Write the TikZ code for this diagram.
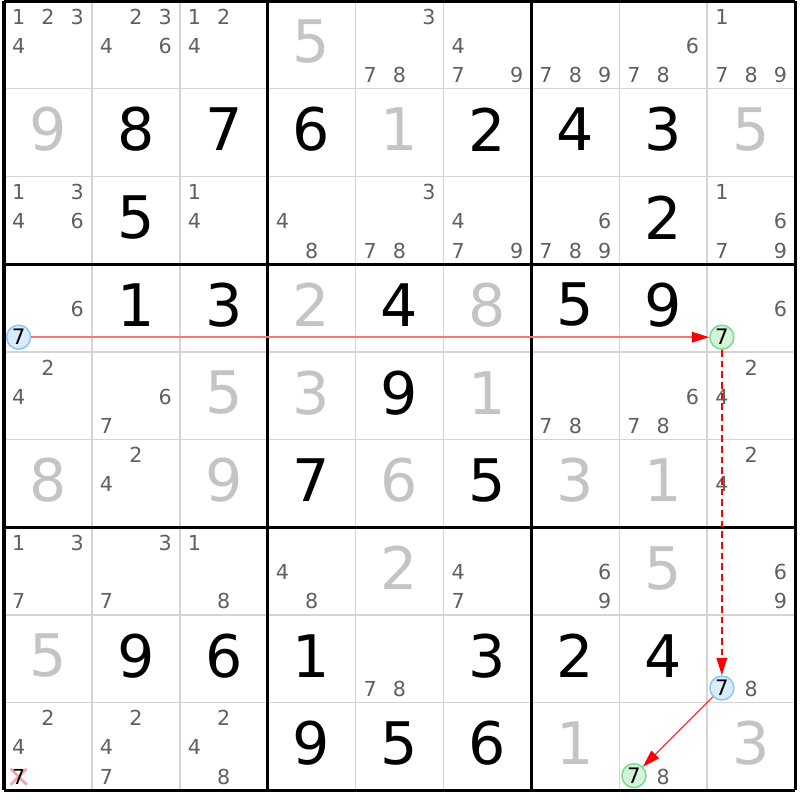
\documentclass[tikz,border=0pt]{standalone}
\usepackage{fontspec}
\setmainfont{DejaVu Sans}
\usetikzlibrary{arrows.meta}
\definecolor{candgray}{HTML}{606060}
\definecolor{solvedgray}{HTML}{C4C4C4}
\definecolor{thingrid}{HTML}{D4D4D4}
\definecolor{bluefill}{HTML}{D8EBFF}
\definecolor{blueline}{HTML}{8CC4F6}
\definecolor{greenfill}{HTML}{D4F4D8}
\definecolor{greenline}{HTML}{7CD890}
\definecolor{xpink}{HTML}{F4A4AC}
\definecolor{linkred}{HTML}{FF0000}
\begin{document}
\begin{tikzpicture}[x=0.75pt,y=-0.75pt,
  given/.style={inner sep=0pt,text=black,font=\fontsize{44}{44}\selectfont},
  solved/.style={inner sep=0pt,text=solvedgray,font=\fontsize{44}{44}\selectfont},
  cand/.style={inner sep=0pt,text=candgray,font=\fontsize{15.5}{15.5}\selectfont},
  bluecirc/.style={circle,draw=blueline,fill=bluefill,line width=1.1pt,minimum size=18pt,inner sep=0pt,text=black,font=\fontsize{16}{16}\selectfont},
  greencirc/.style={circle,draw=greenline,fill=greenfill,line width=1.1pt,minimum size=18pt,inner sep=0pt,text=black,font=\fontsize{16}{16}\selectfont},
  plaincand/.style={inner sep=0pt,text=black,font=\fontsize{15.5}{15.5}\selectfont},
  thinline/.style={draw=thingrid,line width=1.1pt},
  thickline/.style={draw=black,line width=2.3pt},
  tipstyle/.style={-{Triangle[length=13pt,width=8pt,color=linkred]}},
  stronglink/.style={draw=linkred!55,line width=1.1pt,tipstyle},
  weaklink/.style={draw=linkred,line width=1.1pt,dash pattern=on 5pt off 3pt,tipstyle},
  difflink/.style={draw=linkred!80,line width=0.9pt,tipstyle},
  elimcross/.style={draw=xpink,line width=2pt}
]
\useasboundingbox (0,0) rectangle (800,800);
\fill[white] (0,0) rectangle (800,800);
% thin grid lines
\foreach \i in {1,2,4,5,7,8}{
  \draw[thinline] ({4+\i*87.9},1) -- ({4+\i*87.9},790.3);
  \draw[thinline] (4,{1+\i*87.7}) -- (795.1,{1+\i*87.7});
}
% thick grid lines
\foreach \i in {0,3,6,9}{
  \draw[thickline] ({4+\i*87.9},1) -- ({4+\i*87.9},790.3);
  \draw[thickline] (4,{1+\i*87.7}) -- (795.1,{1+\i*87.7});
}
% given digits
\foreach \r/\c/\d in {1/1/8,1/2/7,1/3/6,1/5/2,1/6/4,1/7/3,2/1/5,2/7/2,3/1/1,3/2/3,3/4/4,3/6/5,3/7/9,4/4/9,5/3/7,5/5/5,7/1/9,7/2/6,7/3/1,7/5/3,7/6/2,7/7/4,8/3/9,8/4/5,8/5/6}{
  \node[given] (g\r\c) at ({4+(\c+0.5)*87.9},{1+(\r+0.5)*87.7-3}) {\d};
}
% solved digits
\foreach \r/\c/\d in {0/3/5,1/0/9,1/4/1,1/8/5,3/3/2,3/5/8,4/2/5,4/3/3,4/5/1,5/0/8,5/2/9,5/4/6,5/6/3,5/7/1,6/4/2,6/7/5,7/0/5,8/6/1,8/8/3}{
  \node[solved] (s\r\c) at ({4+(\c+0.5)*87.9},{1+(\r+0.5)*87.7-3}) {\d};
}
% candidates
\foreach \r/\c/\L in {0/0/{1,2,3,4},0/1/{2,3,4,6},0/2/{1,2,4},0/4/{3,7,8},0/5/{4,7,9},0/6/{7,8,9},0/7/{6,7,8},0/8/{1,7,8,9},
  2/0/{1,3,4,6},2/2/{1,4},2/3/{4,8},2/4/{3,7,8},2/5/{4,7,9},2/6/{6,7,8,9},2/8/{1,6,7,9},
  3/0/{6},3/8/{6},
  4/0/{2,4},4/1/{6,7},4/6/{7,8},4/7/{6,7,8},4/8/{2,4},
  5/1/{2,4},5/8/{2,4},
  6/0/{1,3,7},6/1/{3,7},6/2/{1,8},6/3/{4,8},6/5/{4,7},6/6/{6,9},6/8/{6,9},
  7/4/{7,8},7/8/{8},
  8/0/{2,4},8/1/{2,4,7},8/2/{2,4,8},8/7/{8}}{
  \foreach \n in \L {
    \pgfmathsetmacro\kx{mod(\n-1,3)}
    \pgfmathsetmacro\jy{div(\n-1,3)}
    \node[cand] (c\r\c\n) at ({4+\c*87.9+(2*\kx+1)*87.9/6},{1+\r*87.7+(2*\jy+1)*87.7/6+1}) {\n};
  }
}
% eliminated candidate with cross
\coordinate (x807) at ({4+87.9/6},{1+8*87.7+5*87.7/6+1});
\draw[elimcross] ([shift={(-8,-8)}]x807) -- ([shift={(8,8)}]x807);
\draw[elimcross] ([shift={(-8,8)}]x807) -- ([shift={(8,-8)}]x807);
\node[plaincand] (c807) at (x807) {7};
% highlighted candidates
\node[bluecirc] (c307) at ({4+87.9/6},{1+3*87.7+5*87.7/6}) {7};
\node[greencirc] (c387) at ({4+8*87.9+87.9/6},{1+3*87.7+5*87.7/6}) {7};
\node[bluecirc] (c787) at ({4+8*87.9+87.9/6},{1+7*87.7+5*87.7/6}) {7};
\node[greencirc] (c877) at ({4+7*87.9+87.9/6},{1+8*87.7+5*87.7/6}) {7};
% links
\draw[stronglink] (c307) -- (c387);
\draw[weaklink] (c387) -- (c787);
\draw[difflink] (c787) -- (c877);
\end{tikzpicture}
\end{document}
